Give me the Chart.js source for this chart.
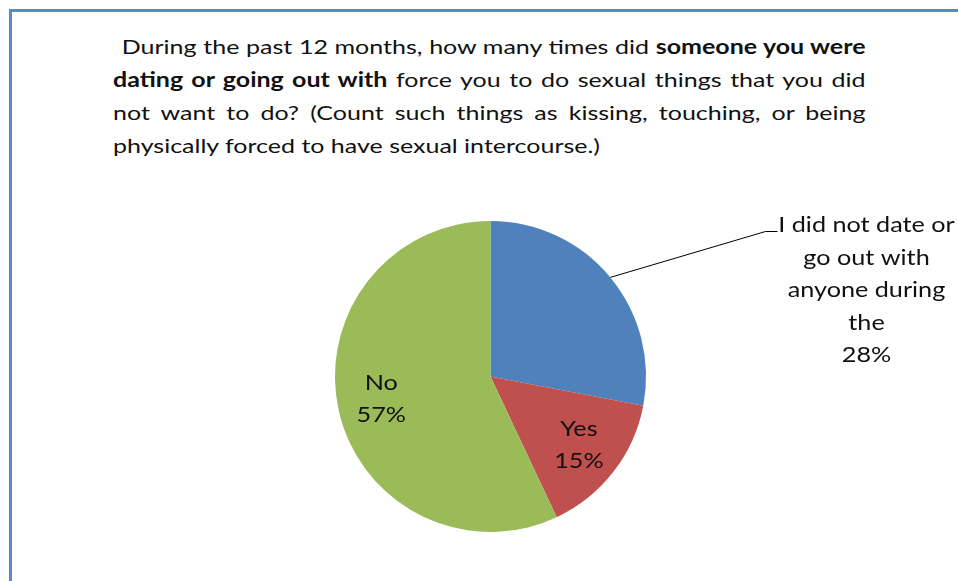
<!DOCTYPE html>
<html>
<head>
<meta charset="utf-8">
<script src="https://cdn.jsdelivr.net/npm/chart.js@4/dist/chart.umd.min.js"></script>
<style>
  html, body { margin: 0; padding: 0; background: #fff; }
  #page { position: relative; width: 958px; height: 581px; overflow: hidden; }
  #frame { position: absolute; left: 9px; top: 9px; width: 960px; height: 600px;
           border-top: 3px solid #5a8ac6; border-left: 3px solid #5a8ac6; }
  #title { position: absolute; left: 113px; top: 30px; width: 602px;
           transform: scaleX(1.25); transform-origin: 0 0;
           font-family: Lato, "Open Sans", sans-serif; font-size: 20px; color: #111; }
  #title div { line-height: 33px; height: 33px; white-space: nowrap; }
  #title .j { text-align: justify; text-align-last: justify; white-space: normal; }
  #title b { font-weight: bold; }
  canvas { position: absolute; left: 0; top: 0; }
</style>
</head>
<body>
<div id="page">
  <div id="frame"></div>
  <div id="title">
    <div class="j" style="padding-left:7px">During the past 12 months, how many times did <b>someone you were</b></div>
    <div class="j"><b>dating or going out with</b> force you to do sexual things that you did</div>
    <div class="j">not want to do? (Count such things as kissing, touching, or being</div>
    <div>physically forced to have sexual intercourse.)</div>
  </div>
  <canvas id="pieChart" width="958" height="581"></canvas>
</div>
<script>
const labels = ['I did not date or go out with anyone during the', 'Yes', 'No'];
const values = [28, 15, 57];
const colors = ['#4f81bd', '#c0504d', '#9bbb59'];

// text slightly stretched to match the wide reference lettering
function drawText(ctx, t, x, y) {
    ctx.save();
    ctx.translate(x, y);
    ctx.scale(1.2, 1);
    ctx.fillText(t, 0, 0);
    ctx.restore();
}

// labels drawn on or beside the slices, Excel style
const sliceLabels = {
    id: 'sliceLabels',
    afterDatasetsDraw(chart) {
        const ctx = chart.ctx;
        const arcs = chart.getDatasetMeta(0).data;
        ctx.save();
        ctx.font = '21px Lato, "Open Sans", sans-serif';
        ctx.fillStyle = '#111';
        ctx.textAlign = 'center';
        ctx.textBaseline = 'middle';
        arcs.forEach((arc, i) => {
            const p = arc.getProps(['x', 'y', 'startAngle', 'endAngle', 'outerRadius']);
            const mid = (p.startAngle + p.endAngle) / 2;
            if (i === 0) {
                // outside label with leader line
                const sx = p.x + Math.cos(mid) * p.outerRadius;
                const sy = p.y + Math.sin(mid) * p.outerRadius;
                const ex = p.x + 275, ey = p.y - 145;
                ctx.strokeStyle = '#000';
                ctx.lineWidth = 1;
                ctx.beginPath();
                ctx.moveTo(sx, sy);
                ctx.lineTo(ex, ey);
                ctx.lineTo(ex + 12, ey);
                ctx.stroke();
                const lines = ['I did not date or', 'go out with', 'anyone during', 'the', values[i] + '%'];
                lines.forEach((t, k) => drawText(ctx, t, p.x + 376, p.y - 151 + k * 32.5));
            } else {
                const r = p.outerRadius * 0.72;
                const cx = p.x + Math.cos(mid) * r;
                const cy = p.y + Math.sin(mid) * r;
                const dy = i === 2 ? -2 : 0;
                drawText(ctx, labels[i], cx, cy - 16 + dy);
                drawText(ctx, values[i] + '%', cx, cy + 16 + dy);
            }
        });
        ctx.restore();
    }
};

new Chart(document.getElementById('pieChart'), {
    type: 'pie',
    data: {
        labels: labels,
        datasets: [{
            data: values,
            backgroundColor: colors,
            borderWidth: 0
        }]
    },
    options: {
        responsive: false,
        animation: false,
        layout: {
            padding: { left: 335, right: 312, top: 221, bottom: 49 }
        },
        plugins: {
            legend: { display: false },
            tooltip: { enabled: false }
        }
    },
    plugins: [sliceLabels]
});
</script>
</body>
</html>
